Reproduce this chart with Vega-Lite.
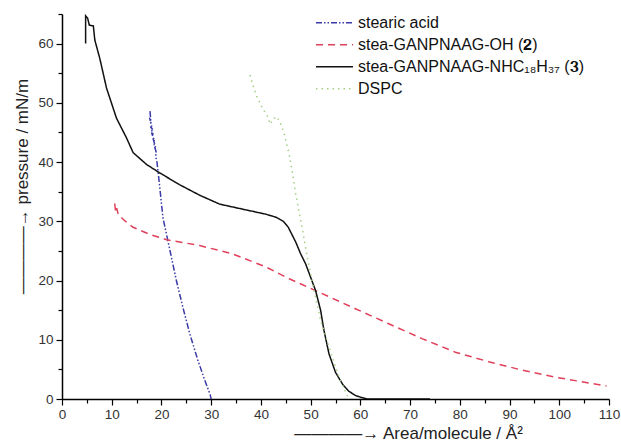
{
  "$schema": "https://vega.github.io/schema/vega-lite/v6.json",
  "autosize": {"type": "none"},
  "width": 547,
  "height": 385,
  "padding": {"left": 62, "top": 14, "right": 12, "bottom": 46},
  "background": "white",
  "config": {
    "view": {"stroke": null},
    "font": "Liberation Sans",
    "axis": {"labelFont": "Liberation Sans", "titleFont": "Liberation Sans", "titleFontWeight": "normal", "grid": false, "domainColor": "#000", "domainWidth": 1.5, "tickColor": "#000", "tickWidth": 1.2, "labelColor": "#333", "titleColor": "#222", "labelFontSize": 13.5, "titleFontSize": 17},
    "legend": {"labelFont": "Liberation Sans", "labelFontSize": 16, "labelColor": "#111", "labelLimit": 0}
  },
  "data": {"values": [
    {"s": "stearic acid", "i": 1, "x": 17.7, "y": 48.6},
    {"s": "stearic acid", "i": 2, "x": 17.9, "y": 46.5},
    {"s": "stearic acid", "i": 3, "x": 17.6, "y": 47.5},
    {"s": "stearic acid", "i": 4, "x": 18.2, "y": 45.5},
    {"s": "stearic acid", "i": 5, "x": 17.8, "y": 46.0},
    {"s": "stearic acid", "i": 6, "x": 18.4, "y": 44.5},
    {"s": "stearic acid", "i": 7, "x": 18.0, "y": 45.0},
    {"s": "stearic acid", "i": 8, "x": 18.6, "y": 43.5},
    {"s": "stearic acid", "i": 9, "x": 18.3, "y": 44.0},
    {"s": "stearic acid", "i": 10, "x": 18.8, "y": 42.5},
    {"s": "stearic acid", "i": 11, "x": 18.5, "y": 43.0},
    {"s": "stearic acid", "i": 12, "x": 19.0, "y": 41.5},
    {"s": "stearic acid", "i": 13, "x": 18.8, "y": 41.0},
    {"s": "stearic acid", "i": 14, "x": 19.1, "y": 40.0},
    {"s": "stearic acid", "i": 15, "x": 19.3, "y": 38.5},
    {"s": "stearic acid", "i": 16, "x": 19.5, "y": 37.0},
    {"s": "stearic acid", "i": 17, "x": 20.3, "y": 30.6},
    {"s": "stearic acid", "i": 18, "x": 21.3, "y": 26.7},
    {"s": "stearic acid", "i": 19, "x": 23.0, "y": 20.0},
    {"s": "stearic acid", "i": 20, "x": 24.3, "y": 15.5},
    {"s": "stearic acid", "i": 21, "x": 25.7, "y": 11.0},
    {"s": "stearic acid", "i": 22, "x": 27.3, "y": 6.6},
    {"s": "stearic acid", "i": 23, "x": 28.7, "y": 3.2},
    {"s": "stearic acid", "i": 24, "x": 29.8, "y": 0.7},
    {"s": "stearic acid", "i": 25, "x": 30.0, "y": 0.0},

    {"s": "stea-GANPNAAG-OH (𝟐)", "i": 1, "x": 10.6, "y": 33.0},
    {"s": "stea-GANPNAAG-OH (𝟐)", "i": 2, "x": 10.8, "y": 31.5},
    {"s": "stea-GANPNAAG-OH (𝟐)", "i": 3, "x": 11.0, "y": 32.2},
    {"s": "stea-GANPNAAG-OH (𝟐)", "i": 4, "x": 11.3, "y": 31.2},
    {"s": "stea-GANPNAAG-OH (𝟐)", "i": 5, "x": 12.6, "y": 30.1},
    {"s": "stea-GANPNAAG-OH (𝟐)", "i": 6, "x": 14.3, "y": 29.0},
    {"s": "stea-GANPNAAG-OH (𝟐)", "i": 7, "x": 17.6, "y": 27.8},
    {"s": "stea-GANPNAAG-OH (𝟐)", "i": 8, "x": 21.0, "y": 26.9},
    {"s": "stea-GANPNAAG-OH (𝟐)", "i": 9, "x": 27.7, "y": 25.9},
    {"s": "stea-GANPNAAG-OH (𝟐)", "i": 10, "x": 34.3, "y": 24.5},
    {"s": "stea-GANPNAAG-OH (𝟐)", "i": 11, "x": 41.0, "y": 22.3},
    {"s": "stea-GANPNAAG-OH (𝟐)", "i": 12, "x": 45.7, "y": 20.3},
    {"s": "stea-GANPNAAG-OH (𝟐)", "i": 13, "x": 51.0, "y": 18.3},
    {"s": "stea-GANPNAAG-OH (𝟐)", "i": 14, "x": 59.1, "y": 15.2},
    {"s": "stea-GANPNAAG-OH (𝟐)", "i": 15, "x": 65.7, "y": 12.7},
    {"s": "stea-GANPNAAG-OH (𝟐)", "i": 16, "x": 72.4, "y": 10.2},
    {"s": "stea-GANPNAAG-OH (𝟐)", "i": 17, "x": 79.1, "y": 7.9},
    {"s": "stea-GANPNAAG-OH (𝟐)", "i": 18, "x": 85.8, "y": 6.3},
    {"s": "stea-GANPNAAG-OH (𝟐)", "i": 19, "x": 92.4, "y": 4.9},
    {"s": "stea-GANPNAAG-OH (𝟐)", "i": 20, "x": 99.1, "y": 3.7},
    {"s": "stea-GANPNAAG-OH (𝟐)", "i": 21, "x": 109.5, "y": 2.2},

    {"s": "stea-GANPNAAG-NHC₁₈H₃₇ (𝟑)", "i": 1, "x": 4.75, "y": 60.0},
    {"s": "stea-GANPNAAG-NHC₁₈H₃₇ (𝟑)", "i": 2, "x": 4.75, "y": 64.7},
    {"s": "stea-GANPNAAG-NHC₁₈H₃₇ (𝟑)", "i": 3, "x": 5.15, "y": 64.3},
    {"s": "stea-GANPNAAG-NHC₁₈H₃₇ (𝟑)", "i": 4, "x": 5.5, "y": 63.1},
    {"s": "stea-GANPNAAG-NHC₁₈H₃₇ (𝟑)", "i": 5, "x": 6.3, "y": 63.0},
    {"s": "stea-GANPNAAG-NHC₁₈H₃₇ (𝟑)", "i": 6, "x": 6.6, "y": 60.6},
    {"s": "stea-GANPNAAG-NHC₁₈H₃₇ (𝟑)", "i": 7, "x": 7.6, "y": 57.5},
    {"s": "stea-GANPNAAG-NHC₁₈H₃₇ (𝟑)", "i": 8, "x": 8.95, "y": 52.5},
    {"s": "stea-GANPNAAG-NHC₁₈H₃₇ (𝟑)", "i": 9, "x": 10.96, "y": 47.4},
    {"s": "stea-GANPNAAG-NHC₁₈H₃₇ (𝟑)", "i": 10, "x": 12.96, "y": 44.1},
    {"s": "stea-GANPNAAG-NHC₁₈H₃₇ (𝟑)", "i": 11, "x": 14.3, "y": 41.6},
    {"s": "stea-GANPNAAG-NHC₁₈H₃₇ (𝟑)", "i": 12, "x": 17.0, "y": 39.6},
    {"s": "stea-GANPNAAG-NHC₁₈H₃₇ (𝟑)", "i": 13, "x": 19.6, "y": 38.2},
    {"s": "stea-GANPNAAG-NHC₁₈H₃₇ (𝟑)", "i": 14, "x": 23.6, "y": 36.2},
    {"s": "stea-GANPNAAG-NHC₁₈H₃₇ (𝟑)", "i": 15, "x": 27.7, "y": 34.4},
    {"s": "stea-GANPNAAG-NHC₁₈H₃₇ (𝟑)", "i": 16, "x": 31.7, "y": 32.9},
    {"s": "stea-GANPNAAG-NHC₁₈H₃₇ (𝟑)", "i": 17, "x": 37.7, "y": 31.8},
    {"s": "stea-GANPNAAG-NHC₁₈H₃₇ (𝟑)", "i": 18, "x": 41.0, "y": 31.2},
    {"s": "stea-GANPNAAG-NHC₁₈H₃₇ (𝟑)", "i": 19, "x": 43.0, "y": 30.7},
    {"s": "stea-GANPNAAG-NHC₁₈H₃₇ (𝟑)", "i": 20, "x": 44.5, "y": 30.0},
    {"s": "stea-GANPNAAG-NHC₁₈H₃₇ (𝟑)", "i": 21, "x": 45.5, "y": 29.0},
    {"s": "stea-GANPNAAG-NHC₁₈H₃₇ (𝟑)", "i": 22, "x": 47.0, "y": 26.5},
    {"s": "stea-GANPNAAG-NHC₁₈H₃₇ (𝟑)", "i": 23, "x": 48.0, "y": 24.5},
    {"s": "stea-GANPNAAG-NHC₁₈H₃₇ (𝟑)", "i": 24, "x": 49.0, "y": 22.8},
    {"s": "stea-GANPNAAG-NHC₁₈H₃₇ (𝟑)", "i": 25, "x": 51.0, "y": 18.3},
    {"s": "stea-GANPNAAG-NHC₁₈H₃₇ (𝟑)", "i": 26, "x": 52.0, "y": 15.0},
    {"s": "stea-GANPNAAG-NHC₁₈H₃₇ (𝟑)", "i": 27, "x": 52.7, "y": 11.5},
    {"s": "stea-GANPNAAG-NHC₁₈H₃₇ (𝟑)", "i": 28, "x": 53.7, "y": 7.6},
    {"s": "stea-GANPNAAG-NHC₁₈H₃₇ (𝟑)", "i": 29, "x": 55.0, "y": 4.5},
    {"s": "stea-GANPNAAG-NHC₁₈H₃₇ (𝟑)", "i": 30, "x": 56.5, "y": 2.4},
    {"s": "stea-GANPNAAG-NHC₁₈H₃₇ (𝟑)", "i": 31, "x": 57.7, "y": 1.3},
    {"s": "stea-GANPNAAG-NHC₁₈H₃₇ (𝟑)", "i": 32, "x": 59.0, "y": 0.6},
    {"s": "stea-GANPNAAG-NHC₁₈H₃₇ (𝟑)", "i": 33, "x": 60.4, "y": 0.2},
    {"s": "stea-GANPNAAG-NHC₁₈H₃₇ (𝟑)", "i": 34, "x": 61.5, "y": 0.0},
    {"s": "stea-GANPNAAG-NHC₁₈H₃₇ (𝟑)", "i": 35, "x": 74.0, "y": 0.0},

    {"s": "DSPC", "i": 1, "x": 37.8, "y": 54.7},
    {"s": "DSPC", "i": 2, "x": 39.0, "y": 51.4},
    {"s": "DSPC", "i": 3, "x": 40.3, "y": 49.1},
    {"s": "DSPC", "i": 4, "x": 41.5, "y": 47.5},
    {"s": "DSPC", "i": 5, "x": 41.8, "y": 46.4},
    {"s": "DSPC", "i": 6, "x": 43.0, "y": 47.7},
    {"s": "DSPC", "i": 7, "x": 43.7, "y": 47.0},
    {"s": "DSPC", "i": 8, "x": 44.3, "y": 45.8},
    {"s": "DSPC", "i": 9, "x": 44.7, "y": 44.7},
    {"s": "DSPC", "i": 10, "x": 45.7, "y": 41.3},
    {"s": "DSPC", "i": 11, "x": 46.4, "y": 37.9},
    {"s": "DSPC", "i": 12, "x": 47.0, "y": 34.6},
    {"s": "DSPC", "i": 13, "x": 47.7, "y": 31.5},
    {"s": "DSPC", "i": 14, "x": 48.7, "y": 27.0},
    {"s": "DSPC", "i": 15, "x": 49.4, "y": 23.6},
    {"s": "DSPC", "i": 16, "x": 50.7, "y": 18.3},
    {"s": "DSPC", "i": 17, "x": 52.0, "y": 13.3},
    {"s": "DSPC", "i": 18, "x": 53.7, "y": 8.8},
    {"s": "DSPC", "i": 19, "x": 55.7, "y": 3.7},
    {"s": "DSPC", "i": 20, "x": 57.4, "y": 0.5},
    {"s": "DSPC", "i": 21, "x": 58.0, "y": 0.1}
  ]},
  "mark": {"type": "line", "strokeWidth": 1.5, "clip": true},
  "encoding": {
    "x": {"field": "x", "type": "quantitative",
      "scale": {"domain": [0, 110], "nice": false, "zero": false},
      "axis": {"values": [0,5,10,15,20,25,30,35,40,45,50,55,60,65,70,75,80,85,90,95,100,105,110],
        "labelExpr": "datum.value % 10 === 0 ? datum.label : ''",
        "tickSize": {"condition": {"test": "datum.value % 10 === 0", "value": 6}, "value": 4},
        "labelPadding": 2, "labelFlush": false,
        "title": "————→       Area/molecule / Å²",
        "titleX": 346, "titleY": 34, "titleBaseline": "middle"}},
    "y": {"field": "y", "type": "quantitative",
      "scale": {"domain": [0, 65], "nice": false},
      "axis": {"values": [0,5,10,15,20,25,30,35,40,45,50,55,60,65],
        "labelExpr": "datum.value % 10 === 0 ? datum.label : ''",
        "tickSize": {"condition": {"test": "datum.value % 10 === 0", "value": 6}, "value": 4},
        "labelPadding": 3, "labelFlush": false,
        "title": "————→       pressure / mN/m",
        "titleX": -40, "titleY": 172, "titleBaseline": "middle"}},
    "color": {"field": "s", "type": "nominal",
      "scale": {"domain": ["stearic acid", "stea-GANPNAAG-OH (𝟐)", "stea-GANPNAAG-NHC₁₈H₃₇ (𝟑)", "DSPC"],
        "range": ["#3b3ba8", "#e0405a", "#111111", "#a6cf86"]},
      "legend": {"title": null, "orient": "none", "legendX": 253, "legendY": -2, "gridAlign": "all", "symbolType": "stroke", "symbolSize": 1369, "symbolStrokeWidth": 1.5, "clipHeight": 21.5, "rowPadding": 0, "labelOffset": 4}},
    "strokeDash": {"field": "s", "type": "nominal",
      "scale": {"domain": ["stearic acid", "stea-GANPNAAG-OH (𝟐)", "stea-GANPNAAG-NHC₁₈H₃₇ (𝟑)", "DSPC"],
        "range": [[6, 2, 1.5, 2, 1.5, 2], [7, 5], [1, 0], [1.5, 4]]},
      "legend": null},
    "order": {"field": "i", "type": "quantitative"}
  }
}
